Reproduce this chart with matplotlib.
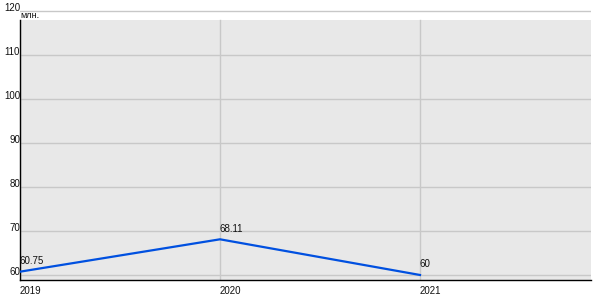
import matplotlib.pyplot as plt
from matplotlib.transforms import blended_transform_factory

plt.rcParams['font.family'] = ['Liberation Sans', 'DejaVu Sans']

years = [2019, 2020, 2021]
values = [60.75, 68.11, 60]
labels = ['60.75', '68.11', '60']
yticks = [60, 70, 80, 90, 100, 110, 120]
unit = 'млн.'

y_lo, y_top_bg, y_hi = 58.86, 118.0, 120.5
x_lo, x_hi = 2019, 2021.855

fig = plt.figure(figsize=(6, 3), dpi=100)
ax = fig.add_axes([20 / 600, 20 / 300, 571 / 600, 271.2 / 300])
ax.set_xlim(x_lo, x_hi)
ax.set_ylim(y_lo, y_hi)
ax.set_facecolor('none')

# gray plot area (stops below the top gridline)
ax.axhspan(y_lo, y_top_bg, color='#e8e8e8', zorder=0, lw=0)

for y in yticks:
    ax.axhline(y, color='#c8c8c8', lw=1, zorder=1)
for x in years:
    ax.plot([x, x], [y_lo, y_top_bg], color='#c8c8c8', lw=1, zorder=1)

ax.plot(years, values, color='#0050e0', lw=1.6, zorder=3, solid_joinstyle='miter')
for x, v, t in zip(years, values, labels):
    ax.annotate(t, (x, v), xytext=(0, 4), textcoords='offset points',
                ha='left', va='bottom', fontsize=7, color='#111111')

for s in ['top', 'right']:
    ax.spines[s].set_visible(False)
ax.spines['left'].set_bounds(y_lo, y_top_bg)
ax.spines['left'].set_linewidth(1.0)
ax.spines['bottom'].set_linewidth(1.0)

ax.set_yticks(yticks)
ax.set_yticklabels([str(y) for y in yticks])
ax.tick_params(axis='y', length=0, pad=0, labelsize=7, labelcolor='#111111')
for lab in ax.get_yticklabels():
    lab.set_va('baseline')

ax.set_xticks(years)
ax.set_xticklabels([str(x) for x in years])
ax.tick_params(axis='x', length=0, pad=4, labelsize=7, labelcolor='#111111')
for lab in ax.get_xticklabels():
    lab.set_ha('left')

tr = blended_transform_factory(ax.transAxes, ax.transData)
ax.text(0.0, 120, unit, transform=tr, ha='left', va='top', fontsize=6.5, color='#111111')

fig.savefig('out.png', dpi=100)
